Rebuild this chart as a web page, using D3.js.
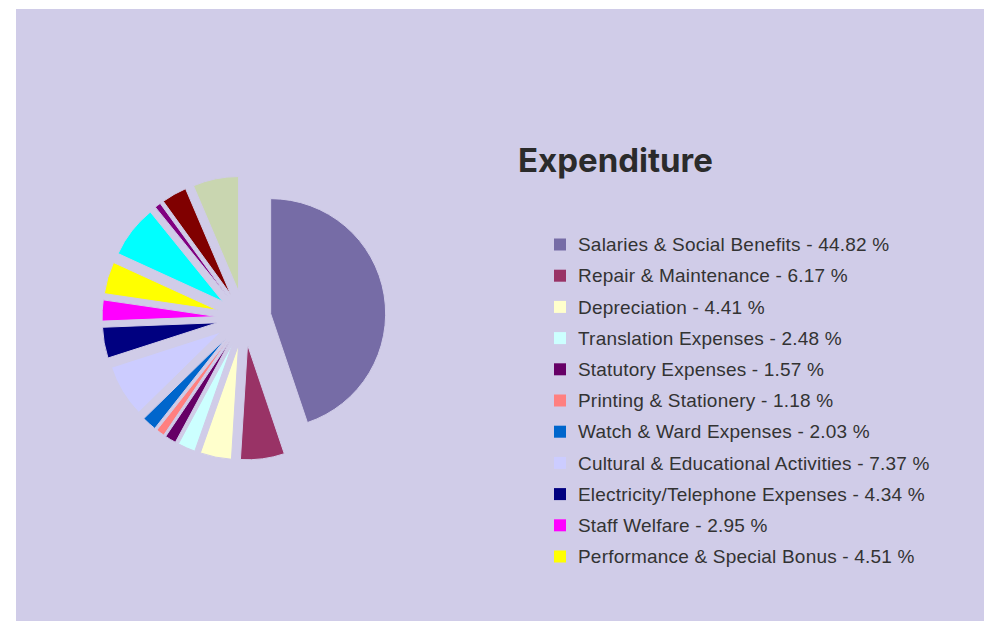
<!DOCTYPE html>
<html>
<head>
<meta charset="utf-8">
<script src="https://cdn.jsdelivr.net/npm/d3@7"></script>
<style>
  html, body { margin: 0; padding: 0; background: #ffffff; }
  svg { display: block; }
</style>
</head>
<body>
<svg id="chart" width="989" height="621"></svg>
<script>
// ---- data ----
const categories = [
  "Salaries & Social Benefits",
  "Repair & Maintenance",
  "Depreciation",
  "Translation Expenses",
  "Statutory Expenses",
  "Printing & Stationery",
  "Watch & Ward Expenses",
  "Cultural & Educational Activities",
  "Electricity/Telephone Expenses",
  "Staff Welfare",
  "Performance & Special Bonus",
  "Other Expenses A",
  "Other Expenses B",
  "Other Expenses C",
  "Other Expenses D"
];
const values = [44.82, 6.17, 4.41, 2.48, 1.57, 1.18, 2.03, 7.37, 4.34, 2.95, 4.51, 7.35, 0.85, 3.55, 6.42];
const colors = [
  "#766ca6", "#993366", "#ffffcc", "#ccffff", "#660066", "#ff8080",
  "#0066cc", "#ccccff", "#000080", "#ff00ff", "#ffff00",
  "#00ffff", "#800080", "#800000", "#c9d6b0"
];
const legendCount = 11; // legend shows only the first entries
const title = "Expenditure";

// ---- layout ----
const svg = d3.select("#chart");
const bg = "#d0cce8";
svg.append("rect").attr("x", 16).attr("y", 9).attr("width", 968).attr("height", 612).attr("fill", bg);

const cx = 244, cy = 318, R = 115, explode = 27;
const pie = d3.pie().sort(null).value(d => d.value).startAngle(0).endAngle(2 * Math.PI);
const data = categories.map((c, i) => ({ name: c, value: values[i], color: colors[i] }));
const arcs = pie(data);
const arc = d3.arc().innerRadius(0).outerRadius(R);

const g = svg.append("g").attr("transform", `translate(${cx},${cy})`);
g.selectAll("path").data(arcs).enter().append("path")
  .attr("d", arc)
  .attr("fill", d => d.data.color)
  .attr("stroke", bg)
  .attr("stroke-width", 1)
  .attr("transform", d => {
    const m = (d.startAngle + d.endAngle) / 2;
    return `translate(${explode * Math.sin(m)},${-explode * Math.cos(m)})`;
  });

// title
svg.append("text")
  .attr("x", 518).attr("y", 172)
  .attr("font-family", "Inter, 'Liberation Sans', sans-serif")
  .attr("font-weight", "bold")
  .attr("font-size", 33)
  .attr("fill", "#2b2b2b")
  .text(title);

// legend
const legend = svg.append("g");
const rowY = d3.scaleLinear().domain([0, legendCount - 1]).range([244.5, 556.5]);
const items = legend.selectAll("g").data(data.slice(0, legendCount)).enter().append("g")
  .attr("transform", (d, i) => `translate(554,${rowY(i)})`);
items.append("rect").attr("x", 0).attr("y", -6).attr("width", 12).attr("height", 12).attr("fill", d => d.color);
items.append("text")
  .attr("x", 24).attr("y", 0).attr("dy", "0.35em")
  .attr("font-family", "'Liberation Sans', Arial, sans-serif")
  .attr("font-size", 19)
  .attr("letter-spacing", 0.2)
  .attr("fill", "#333333")
  .text(d => `${d.name} - ${d.value.toFixed(2)} %`);
</script>
</body>
</html>
